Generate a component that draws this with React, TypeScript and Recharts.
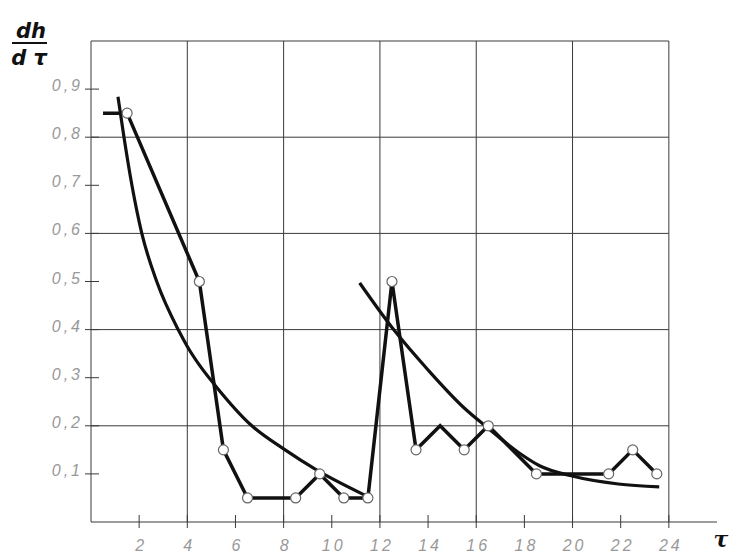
import React from "react";
import { LineChart, Line, XAxis, YAxis, ReferenceLine } from "recharts";

// measured dh/dτ values
const tau = [0.5, 1.5, 4.5, 5.5, 6.5, 8.5, 9.5, 10.5, 11.5, 12.5, 13.5, 14.5, 15.5, 16.5, 18.5, 21.5, 22.5, 23.5];
const rate = [0.85, 0.85, 0.5, 0.15, 0.05, 0.05, 0.1, 0.05, 0.05, 0.5, 0.15, 0.2, 0.15, 0.2, 0.1, 0.1, 0.15, 0.1];
// vertices drawn without a marker
const plainTau = [0.5, 14.5];

// approximating curves, first and second period
const fit1Tau = [1.12, 1.37, 1.7, 2.11, 2.73, 3.62, 4, 4.52, 5.14, 6.68, 8, 9.38, 11.37];
const fit1Rate = [0.884, 0.8, 0.7, 0.6, 0.5, 0.4, 0.365, 0.325, 0.285, 0.2, 0.152, 0.108, 0.056];
const fit2Tau = [11.16, 12.57, 14, 15.5, 16.42, 17.8, 18.63, 19.94, 21.9, 23.6];
const fit2Rate = [0.497, 0.4, 0.316, 0.237, 0.198, 0.143, 0.117, 0.096, 0.079, 0.073];

const xTicks = [2, 4, 6, 8, 10, 12, 14, 16, 18, 20, 22, 24];
const yTicks = [0.1, 0.2, 0.3, 0.4, 0.5, 0.6, 0.7, 0.8, 0.9];
const xGrid = [4, 8, 12, 16, 20, 24];
const yGrid = [0.2, 0.4, 0.6, 0.8, 1.0];

const measured = tau.map((t, i) => ({ t, v: rate[i] }));
const fit1 = fit1Tau.map((t, i) => ({ t, v: fit1Rate[i] }));
const fit2 = fit2Tau.map((t, i) => ({ t, v: fit2Rate[i] }));

const GRID = "#3a3a3a";
const LABEL = "#999";
const labelFont = "'Liberation Sans', Arial, sans-serif";

const XTick = (props: any) => {
  const { x, y, payload } = props;
  return (
    <g>
      <line x1={x} x2={x} y1={y - 7} y2={y + 6} stroke={GRID} strokeWidth={1} />
      <text x={x + 2} y={y + 29} textAnchor="middle" fill={LABEL} fontSize={16}
        fontStyle="italic" fontFamily={labelFont} letterSpacing={3}>
        {payload.value}
      </text>
    </g>
  );
};

const YTick = (props: any) => {
  const { x, y, payload } = props;
  return (
    <g>
      <line x1={x - 6} x2={x + 8} y1={y} y2={y} stroke={GRID} strokeWidth={1} />
      <text x={x - 8} y={y + 2} textAnchor="end" fill={LABEL} fontSize={16}
        fontStyle="italic" fontFamily={labelFont} letterSpacing={3}>
        {payload.value.toFixed(1).replace(".", ",")}
      </text>
    </g>
  );
};

const Marker = (props: any) => {
  const { cx, cy, payload } = props;
  if (plainTau.includes(payload.t)) return <g key={payload.t} />;
  return <circle key={payload.t} cx={cx} cy={cy} r={5} fill="#fff" stroke="#666" strokeWidth={1.2} />;
};

export default function App() {
  return (
    <div style={{ position: "absolute", left: 0, top: 0, width: 733, height: 555, background: "#fff" }}>
      <LineChart width={733} height={555} margin={{ top: 41, right: 16, left: 0, bottom: 0 }}>
        <XAxis dataKey="t" type="number" domain={[0, 26]} ticks={xTicks} interval={0}
          height={33} tickSize={0} tickMargin={0} tickLine={false}
          axisLine={{ stroke: GRID, strokeWidth: 1 }} tick={<XTick />} allowDataOverflow />
        <YAxis dataKey="v" type="number" domain={[0, 1]} ticks={yTicks} interval={0}
          width={91} tickSize={0} tickMargin={0} tickLine={false}
          axisLine={{ stroke: GRID, strokeWidth: 1 }} tick={<YTick />} allowDataOverflow />
        {yGrid.map((g) => (
          <ReferenceLine key={"h" + g} segment={[{ x: 0, y: g }, { x: 24, y: g }]}
            stroke={GRID} strokeWidth={1} ifOverflow="visible" />
        ))}
        {xGrid.map((g) => (
          <ReferenceLine key={"v" + g} x={g} stroke={GRID} strokeWidth={1} ifOverflow="visible" />
        ))}
        <Line data={fit1} dataKey="v" type="monotone" stroke="#111" strokeWidth={3.2}
          dot={false} activeDot={false} isAnimationActive={false} />
        <Line data={fit2} dataKey="v" type="monotone" stroke="#111" strokeWidth={3.2}
          dot={false} activeDot={false} isAnimationActive={false} />
        <Line data={measured} dataKey="v" type="linear" stroke="#111" strokeWidth={3.5}
          dot={<Marker />} activeDot={false} isAnimationActive={false} />
      </LineChart>
      <svg width={733} height={555} style={{ position: "absolute", left: 0, top: 0, pointerEvents: "none" }}>
        <text x={31} y={38} textAnchor="middle" fontSize={21} fontWeight="bold" fontStyle="italic"
          fontFamily="'DejaVu Sans', sans-serif" fill="#111">dh</text>
        <line x1={12} x2={47} y1={43} y2={43} stroke="#111" strokeWidth={2} />
        <text x={29} y={65} textAnchor="middle" fontSize={21} fontWeight="bold" fontStyle="italic"
          fontFamily="'DejaVu Sans', sans-serif" fill="#111">d τ</text>
        <text x={721} y={547} textAnchor="middle" fontSize={22} fontWeight="bold" fontStyle="italic"
          fontFamily="'DejaVu Serif', serif" fill="#111">τ</text>
      </svg>
    </div>
  );
}
